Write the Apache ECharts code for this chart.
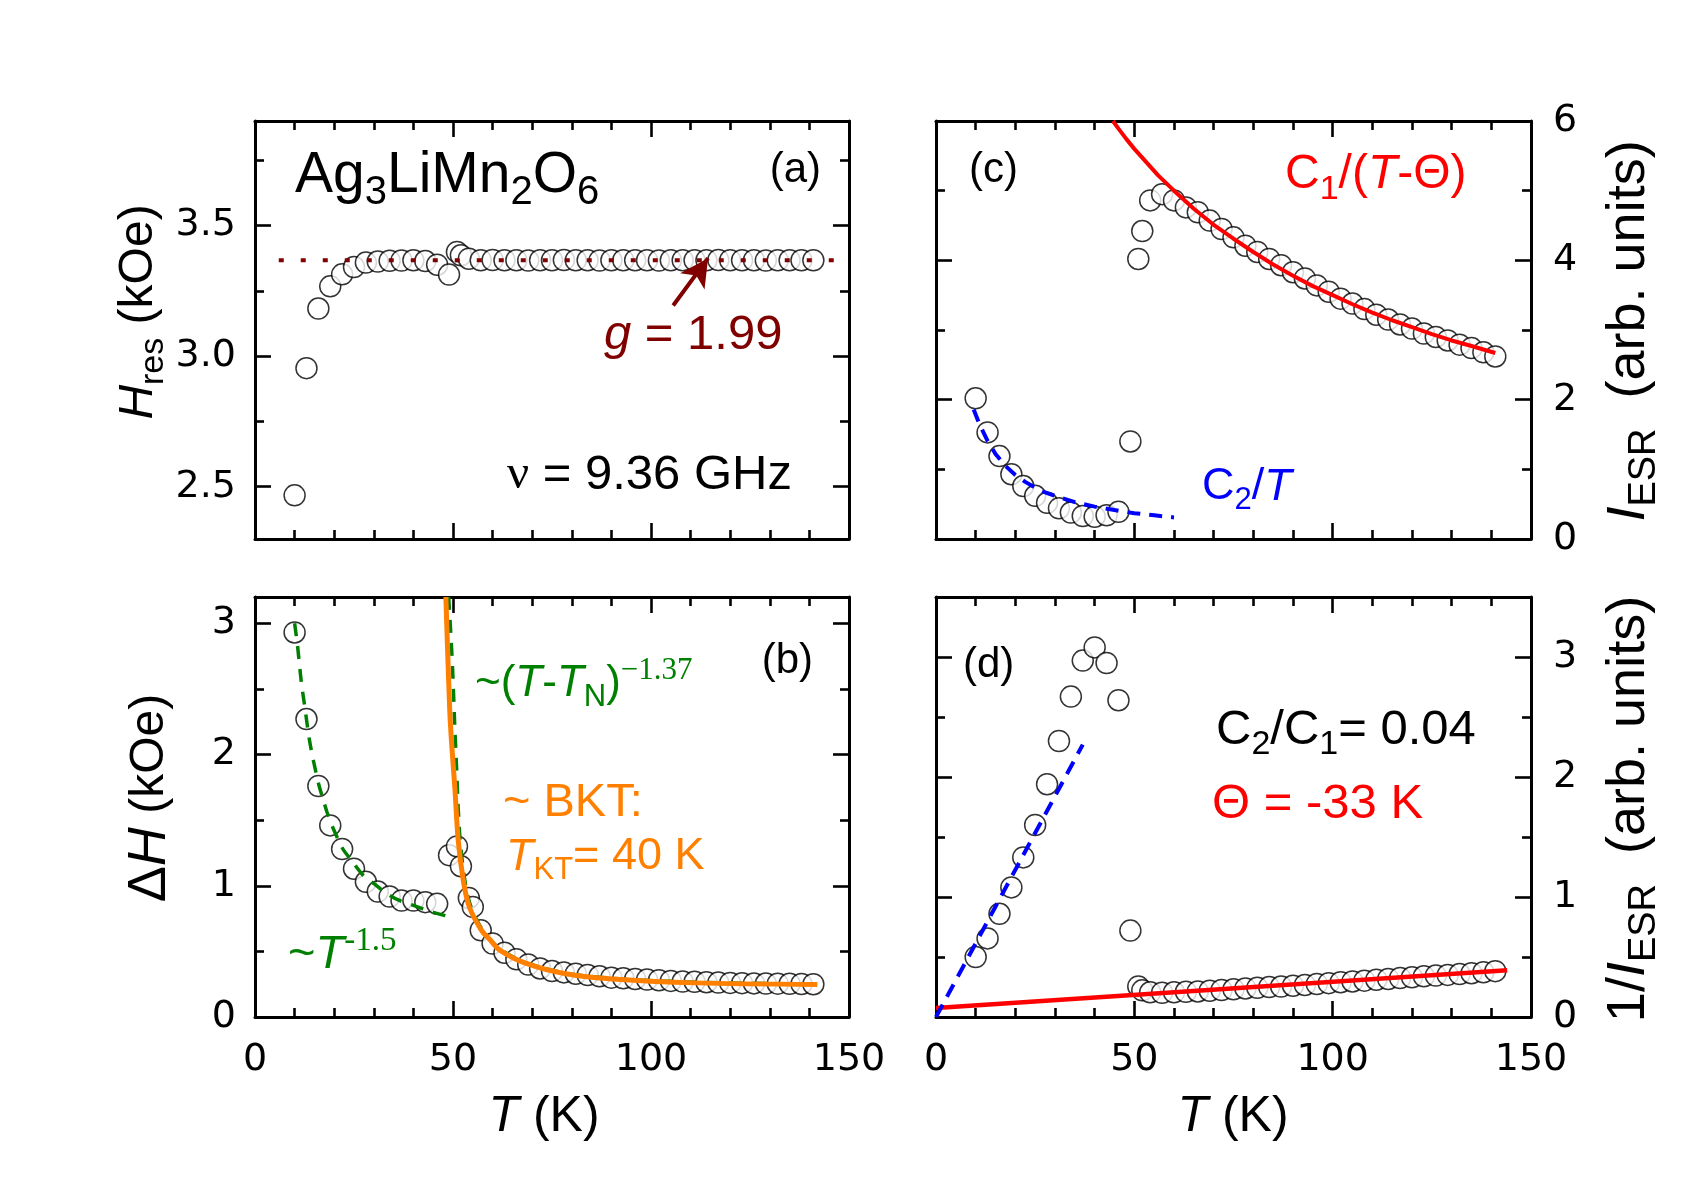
<!DOCTYPE html>
<html>
<head>
<meta charset="utf-8">
<title>Ag3LiMn2O6 ESR</title>
<script src="https://cdn.jsdelivr.net/npm/echarts@6/dist/echarts.min.js"></script>
<style>
  html, body { margin: 0; padding: 0; background: #fff; }
  #chart { width: 1703px; height: 1196px; }
</style>
</head>
<body>
<div id="chart"></div>
<script>
// temperature points (K)
var temps = [10, 13, 16, 19, 22, 25, 28, 31, 34, 37, 40, 43, 46, 49, 51, 52, 54,
  57, 60, 63, 66, 69, 72, 75, 78, 81, 84, 87, 90, 93, 96, 99, 102, 105, 108, 111,
  114, 117, 120, 123, 126, 129, 132, 135, 138, 141];
// panel (b) has one extra point at 55 K
var tempsB = [10, 13, 16, 19, 22, 25, 28, 31, 34, 37, 40, 43, 46, 49, 51, 52, 54, 55,
  57, 60, 63, 66, 69, 72, 75, 78, 81, 84, 87, 90, 93, 96, 99, 102, 105, 108, 111,
  114, 117, 120, 123, 126, 129, 132, 135, 138, 141];

// (a) resonance field, kOe
var hres = [2.467, 2.954, 3.182, 3.267, 3.313, 3.341, 3.358, 3.362, 3.365, 3.366, 3.367,
  3.364, 3.350, 3.312, 3.399, 3.386, 3.373,
  3.367, 3.368, 3.367, 3.367, 3.366, 3.367, 3.367, 3.368, 3.367, 3.367, 3.366, 3.367,
  3.367, 3.367, 3.367, 3.366, 3.367, 3.367, 3.367, 3.367, 3.368, 3.367, 3.367, 3.367,
  3.366, 3.367, 3.367, 3.367, 3.367];
// (b) linewidth, kOe
var dH = [2.93, 2.27, 1.76, 1.46, 1.28, 1.13, 1.03, 0.956, 0.918, 0.887, 0.887,
  0.875, 0.862, 1.233, 1.30, 1.149, 0.907, 0.839,
  0.661, 0.56, 0.49, 0.44, 0.40, 0.37, 0.35, 0.34, 0.33, 0.32, 0.31, 0.30, 0.295,
  0.29, 0.285, 0.28, 0.275, 0.27, 0.268, 0.265, 0.262, 0.26, 0.258, 0.256, 0.255,
  0.254, 0.253, 0.252, 0.25];
// (c) ESR intensity, arb. units
var iesr = [2.02, 1.53, 1.19, 0.93, 0.76, 0.62, 0.52, 0.44, 0.38, 0.33, 0.32, 0.34,
  0.39, 1.40, 4.02, 4.42, 4.86,
  4.95, 4.86, 4.76, 4.69, 4.57, 4.45, 4.33, 4.21, 4.12, 4.02, 3.93, 3.83, 3.74,
  3.64, 3.55, 3.45, 3.38, 3.30, 3.22, 3.15, 3.08, 3.02, 2.95, 2.90, 2.85, 2.79,
  2.74, 2.68, 2.62];
// (d) inverse intensity
var invI = [0.50, 0.655, 0.86, 1.08, 1.33, 1.60, 1.94, 2.30, 2.67, 2.97, 3.08, 2.95,
  2.64, 0.72, 0.255, 0.222, 0.206,
  0.202, 0.206, 0.210, 0.213, 0.219, 0.225, 0.231, 0.238, 0.243, 0.249, 0.254,
  0.261, 0.267, 0.275, 0.282, 0.290, 0.296, 0.303, 0.311, 0.317, 0.325, 0.331,
  0.339, 0.345, 0.351, 0.358, 0.365, 0.373, 0.382];

// fit lines as [T, value]
var gLine = [[6, 3.367], [147, 3.367]];
var gArrow = [[105.6, 3.194], [114.4, 3.375]];
var lowPowerFit = [[10, 3.0], [10.7, 2.84], [11.7, 2.55], [12.4, 2.40], [13.7, 2.12],
  [14.7, 1.96], [16.2, 1.76], [17.2, 1.66], [18.2, 1.56], [19.7, 1.44], [22.2, 1.28],
  [24.2, 1.20], [27.3, 1.08], [30.3, 1.01], [33.3, 0.94], [36.3, 0.89], [40, 0.85],
  [44.8, 0.80], [48.3, 0.77]];
var highPowerFit = [[48.9, 3.2], [49.3, 3.0], [49.9, 2.65], [50.4, 2.25], [50.9, 1.9],
  [51.3, 1.6], [51.8, 1.35], [52.8, 1.08], [54.3, 0.86], [57.3, 0.67], [61.8, 0.52],
  [68.3, 0.415], [78.4, 0.335], [92.4, 0.29], [111.4, 0.265], [142, 0.25]];
var bktFit = [[48.2, 3.2], [48.6, 2.83], [49.2, 2.32], [49.6, 2.11], [50.5, 1.73],
  [51.3, 1.35], [52.6, 1.04], [54.1, 0.84], [57.2, 0.66], [59.3, 0.59], [61.8, 0.51],
  [68.3, 0.41], [78.4, 0.33], [92.4, 0.285], [111.4, 0.26], [142, 0.247]];
var curieFit = [[44.6, 6.0], [46, 5.89], [48, 5.74], [50, 5.60], [53, 5.41], [56, 5.22],
  [60, 5.00], [65, 4.74], [70, 4.51], [75, 4.31], [80, 4.12], [85, 3.94], [90, 3.78],
  [95, 3.63], [100, 3.50], [105, 3.37], [110, 3.25], [115, 3.14], [120, 3.04],
  [125, 2.94], [130, 2.85], [135, 2.77], [141, 2.67]];
var c2Fit = [[9.5, 1.86], [11, 1.64], [13, 1.41], [15, 1.22], [17.5, 1.05], [20, 0.92],
  [22.5, 0.82], [25, 0.74], [27.5, 0.67], [30, 0.62], [35, 0.53], [40, 0.465],
  [45, 0.415], [50, 0.37], [55, 0.34], [60, 0.31]];
var invCurieFit = [[0, 0.075], [144, 0.39]];
var invC2Fit = [[0, 0], [37, 2.27]];

// tick values
var hresMajor = [2.5, 3.0, 3.5], hresMinor = [2.75, 3.25, 3.75];
var dHMajor = [0, 1, 2, 3], dHMinor = [0.5, 1.5, 2.5];
var iMajor = [0, 2, 4, 6], iMinor = [1, 3, 5];
var invMajor = [0, 1, 2, 3], invMinor = [0.5, 1.5, 2.5];

var SANS = 'Liberation Sans', SERIF = 'Liberation Serif', TICKFONT = 'DejaVu Sans';
var RED = '#ff0000', BLUE = '#0000ff', GREEN = '#008000', ORANGE = '#ff8000', DARKRED = '#800000';

var grids = [
  { left: 255, top: 121, width: 594, height: 418 },  // (a)
  { left: 255, top: 597, width: 594, height: 420 },  // (b)
  { left: 936, top: 121, width: 595, height: 418 },  // (c)
  { left: 936, top: 597, width: 595, height: 420 }   // (d)
];

var tickLine = { color: '#000', width: 2.6 };
var labelFont = { color: '#000', fontFamily: TICKFONT, fontSize: 38 };

function xAxes(g, showLabels) {
  var base = {
    gridIndex: g, type: 'value', min: 0, max: 150, interval: 50,
    axisLine: { onZero: false, lineStyle: { color: '#000', width: 3 } },
    axisTick: { inside: true, length: 16, lineStyle: tickLine },
    minorTick: { show: true, splitNumber: 5, length: 9, lineStyle: tickLine },
    splitLine: { show: false }, minorSplitLine: { show: false }
  };
  return [
    Object.assign({}, base, { position: 'bottom',
      axisLabel: Object.assign({ show: showLabels, margin: 24 }, labelFont) }),
    Object.assign({}, base, { position: 'top', axisLabel: { show: false } })
  ];
}

function yAxes(g, min, max, major, minor, labelSide, fmt) {
  var out = [];
  ['left', 'right'].forEach(function (pos) {
    out.push({
      gridIndex: g, type: 'value', position: pos, min: min, max: max,
      axisLine: { show: true, onZero: false, lineStyle: { color: '#000', width: 3 } },
      axisTick: { inside: true, length: 16, customValues: major, lineStyle: tickLine },
      axisLabel: Object.assign({ show: pos === labelSide, customValues: major,
        formatter: fmt, margin: pos === 'left' ? 19 : 22 }, labelFont),
      splitLine: { show: false }
    });
    out.push({
      gridIndex: g, type: 'value', position: pos, min: min, max: max,
      axisLine: { show: false, onZero: false },
      axisTick: { inside: true, length: 9, customValues: minor, lineStyle: tickLine },
      axisLabel: { show: false },
      splitLine: { show: false }
    });
  });
  return out;
}

function pairs(xs, ys) {
  return xs.map(function (t, i) { return [t, ys[i]]; });
}

function dots(g, xs, ys) {
  return {
    type: 'scatter', xAxisIndex: 2 * g, yAxisIndex: 4 * g,
    data: pairs(xs, ys), symbol: 'circle', symbolSize: 21,
    itemStyle: { color: '#fff', borderColor: '#000', borderWidth: 1.5 },
    emphasis: { disabled: true }, silent: true
  };
}

function fit(g, data, color, width, type, smooth) {
  return {
    type: 'line', xAxisIndex: 2 * g, yAxisIndex: 4 * g, data: data,
    showSymbol: false, symbol: 'none', smooth: smooth || false,
    lineStyle: { color: color, width: width, type: type || 'solid', cap: 'butt' },
    emphasis: { disabled: true }, silent: true, clip: true
  };
}

function tok(size, extra) {
  return Object.assign({ fontSize: size, fontFamily: SANS, fontStyle: 'normal', fontWeight: 'normal' }, extra || {});
}
function richSet(size, fill) {
  var s = Math.round(size * 0.7), b = Math.round(size * 1.12);
  return {
    n: tok(size, { fill: fill }),
    i: tok(size, { fill: fill, fontStyle: 'italic' }),
    bn: tok(b, { fill: fill }),
    bi: tok(b, { fill: fill, fontStyle: 'italic' }),
    sub: tok(s, { fill: fill, padding: [Math.round(size * 0.6), 0, 0, 0] }),
    sup: tok(s, { fill: fill, fontFamily: SERIF, padding: [0, 0, Math.round(size * 0.6), 0] }),
    gr: tok(size, { fill: fill, fontFamily: SERIF })
  };
}
function txt(x, y, text, size, fill, align, rot) {
  fill = fill || '#000';
  align = align || 'left';
  return {
    type: 'text', x: x, y: y, rotation: rot || 0, silent: true, z: 100,
    style: {
      text: text, rich: richSet(size, fill), fill: fill,
      fontSize: size, fontFamily: SANS,
      align: align, verticalAlign: 'middle', textAlign: align, textVerticalAlign: 'middle'
    }
  };
}

var chart = echarts.init(document.getElementById('chart'));

var xAxisList = [].concat(xAxes(0, false), xAxes(1, true), xAxes(2, false), xAxes(3, true));
var yAxisList = [].concat(
  yAxes(0, 2.3, 3.9, hresMajor, hresMinor, 'left', function (v) { return v.toFixed(1); }),
  yAxes(1, 0, 3.2, dHMajor, dHMinor, 'left'),
  yAxes(2, 0, 6, iMajor, iMinor, 'right'),
  yAxes(3, 0, 3.5, invMajor, invMinor, 'right')
);

// arrow pointing at the g = 1.99 line
var arrowSeries = {
  type: 'line', xAxisIndex: 0, yAxisIndex: 0, showSymbol: true,
  data: [
    { value: gArrow[0], symbol: 'none' },
    { value: gArrow[1], symbol: 'arrow', symbolSize: [22, 28], symbolRotate: -34 }
  ],
  itemStyle: { color: DARKRED },
  lineStyle: { color: DARKRED, width: 4 },
  emphasis: { disabled: true }, silent: true
};

var series = [
  dots(0, temps, hres),
  fit(0, gLine, DARKRED, 4, [5, 17], false),
  arrowSeries,
  dots(1, tempsB, dH),
  fit(1, lowPowerFit, GREEN, 3.5, [13, 10], 0.3),
  fit(1, highPowerFit, GREEN, 3.5, [13, 10], 0.3),
  fit(1, bktFit, ORANGE, 5, 'solid', 0.3),
  dots(2, temps, iesr),
  fit(2, curieFit, RED, 4, 'solid', false),
  fit(2, c2Fit, BLUE, 4, [13, 9], false),
  dots(3, temps, invI),
  fit(3, invCurieFit, RED, 4.5, 'solid', false),
  fit(3, invC2Fit, BLUE, 4, [14, 9], false)
];

var texts = [
  txt(295, 176, '{n|Ag}{sub|3}{n|LiMn}{sub|2}{n|O}{sub|6}', 57),
  txt(821, 170, '{n|(a)}', 42, '#000', 'right'),
  txt(604, 335, '{i|g}{n| = 1.99}', 49, DARKRED),
  txt(507, 475, '{gr|ν}{n| = 9.36 GHz}', 49),
  txt(969, 170, '{n|(c)}', 42),
  txt(1285, 175, '{n|C}{sub|1}{n|/(}{i|T}{n|-Θ)}', 48, RED),
  txt(1202, 487, '{n|C}{sub|2}{n|/}{i|T}', 45, BLUE),
  txt(813, 661, '{n|(b)}', 42, '#000', 'right'),
  txt(475, 684, '{n|~(}{i|T}{n|-}{i|T}{sub|N}{n|)}{sup|−1.37}', 44, GREEN),
  txt(503, 803, '{n|~ BKT:}', 47, ORANGE),
  txt(506, 857, '{i|T}{sub|KT}{n|= 40 K}', 45, ORANGE),
  txt(288, 955, '{n|~}{i|T}{sup|-1.5}', 47, GREEN),
  txt(963, 665, '{n|(d)}', 42),
  txt(1216, 730, '{n|C}{sub|2}{n|/C}{sub|1}{n|= 0.04}', 49),
  txt(1212, 804, '{n|Θ = -33 K}', 49, RED),
  // axis titles
  txt(139, 312, '{i|H}{sub|res}{n| (kOe)}', 48, '#000', 'center', Math.PI / 2),
  txt(150, 798, '{bn|Δ}{bi|H}{n| (kOe)}', 48, '#000', 'center', Math.PI / 2),
  txt(544, 1117, '{i|T}{n| (K)}', 50, '#000', 'center'),
  txt(1233, 1117, '{i|T}{n| (K)}', 50, '#000', 'center'),
  txt(1629, 331, '{i|I}{sub|ESR}{n|  (arb. units)}', 54, '#000', 'center', Math.PI / 2),
  txt(1629, 809, '{n|1/}{i|I}{sub|ESR}{n|  (arb. units)}', 54, '#000', 'center', Math.PI / 2)
];

chart.setOption({
  animation: false,
  backgroundColor: '#fff',
  grid: grids,
  xAxis: xAxisList,
  yAxis: yAxisList,
  series: series,
  graphic: texts
});
</script>
</body>
</html>
